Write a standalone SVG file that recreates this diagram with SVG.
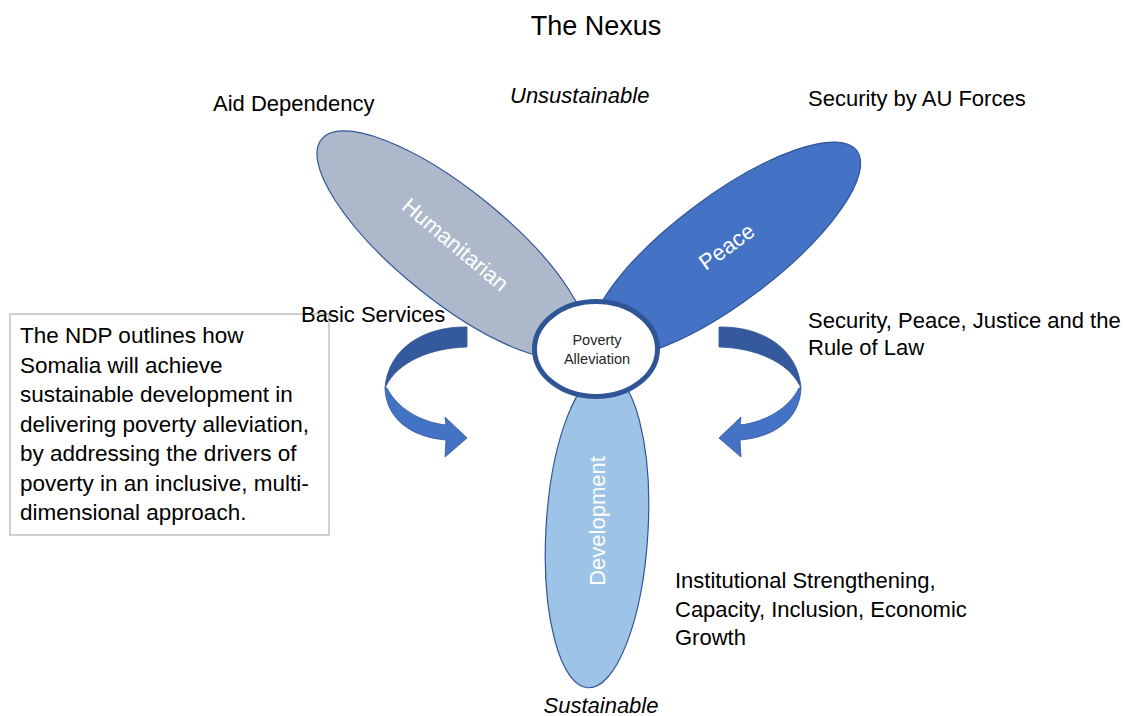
<svg xmlns="http://www.w3.org/2000/svg" width="1125" height="716" viewBox="0 0 1125 716">
<style>
text{font-family:"Liberation Sans",Arial,sans-serif;fill:#000}
.lbl{font-size:22px}
.it{font-style:italic}
.box{font-size:22.5px}
.petal{stroke:#2f5597;stroke-width:1.2}
.pt{font-size:22px;fill:#fff;text-anchor:middle}
.dark{fill:#34599c;stroke:#2f5597;stroke-width:0.8}
.light{fill:#4472c4;stroke:#2f5597;stroke-width:0.8}
</style>
<rect width="1125" height="716" fill="#fff"/>

<g id="textbox">
<rect x="10" y="314" width="319" height="221" fill="#fff" stroke="#c0c0c0" stroke-width="1.5"/>
<text class="box" x="20" y="343">The NDP outlines how</text>
<text class="box" x="20" y="372.5">Somalia will achieve</text>
<text class="box" x="20" y="402">sustainable development in</text>
<text class="box" x="20" y="431.5">delivering poverty alleviation,</text>
<text class="box" x="20" y="461">by addressing the drivers of</text>
<text class="box" x="20" y="490.5">poverty in an inclusive, multi-</text>
<text class="box" x="20" y="520">dimensional approach.</text>
</g>

<text x="596" y="35" style="font-size:27px" text-anchor="middle">The Nexus</text>
<text class="lbl" x="213" y="111">Aid Dependency</text>
<text class="lbl it" x="510" y="103">Unsustainable</text>
<text class="lbl" x="808" y="106">Security by AU Forces</text>
<text class="lbl" x="301" y="322">Basic Services</text>
<text class="lbl" x="808" y="328">Security, Peace, Justice and the</text>
<text class="lbl" x="808" y="355">Rule of Law</text>
<text class="lbl" x="675" y="588">Institutional Strengthening,</text>
<text class="lbl" x="675" y="617">Capacity, Inclusion, Economic</text>
<text class="lbl" x="675" y="645">Growth</text>
<text class="lbl it" x="601" y="713" text-anchor="middle">Sustainable</text>

<g id="humanitarian">
<ellipse class="petal" cx="452" cy="245" rx="168" ry="55" fill="#adb9ca" transform="rotate(39 452 245)"/>
<text class="pt" x="455" y="252" transform="rotate(40 455 245)">Humanitarian</text>
</g>
<g id="peace">
<ellipse class="petal" cx="725" cy="250" rx="165" ry="53" fill="#4472c4" transform="rotate(-37 725 250)"/>
<text class="pt" x="727" y="254" transform="rotate(-36 727 247)">Peace</text>
</g>
<g id="development">
<ellipse class="petal" cx="597" cy="530" rx="51" ry="158" fill="#9dc3e6" transform="rotate(3.3 597 530)"/>
<text class="pt" x="598" y="528" transform="rotate(-90 598 521)">Development</text>
</g>
<g id="poverty">
<ellipse cx="596" cy="349" rx="61.5" ry="47.5" fill="#fff" stroke="#2f5597" stroke-width="5"/>
<text x="597" y="345" style="font-size:14.5px;fill:#262626" text-anchor="middle">Poverty</text>
<text x="597" y="364" style="font-size:14.5px;fill:#262626" text-anchor="middle">Alleviation</text>
</g>

<g id="connectors">
<g id="arrow-left">
<path class="light" d="M385,388 C386,418 410,437 446,440 L445,457 L467,438 L445,417 L446,425 C420,422 397,408 387,388 Z"/>
<path class="dark" d="M467,327 C425,326 388,348 385,388 L386,386 C398,362 430,348 467,347 Z"/>
</g>
<g id="arrow-right" transform="translate(1186,0) scale(-1,1)">
<path class="light" d="M385,388 C386,418 410,437 446,440 L445,457 L467,438 L445,417 L446,425 C420,422 397,408 387,388 Z"/>
<path class="dark" d="M467,327 C425,326 388,348 385,388 L386,386 C398,362 430,348 467,347 Z"/>
</g>
</g>
</svg>
